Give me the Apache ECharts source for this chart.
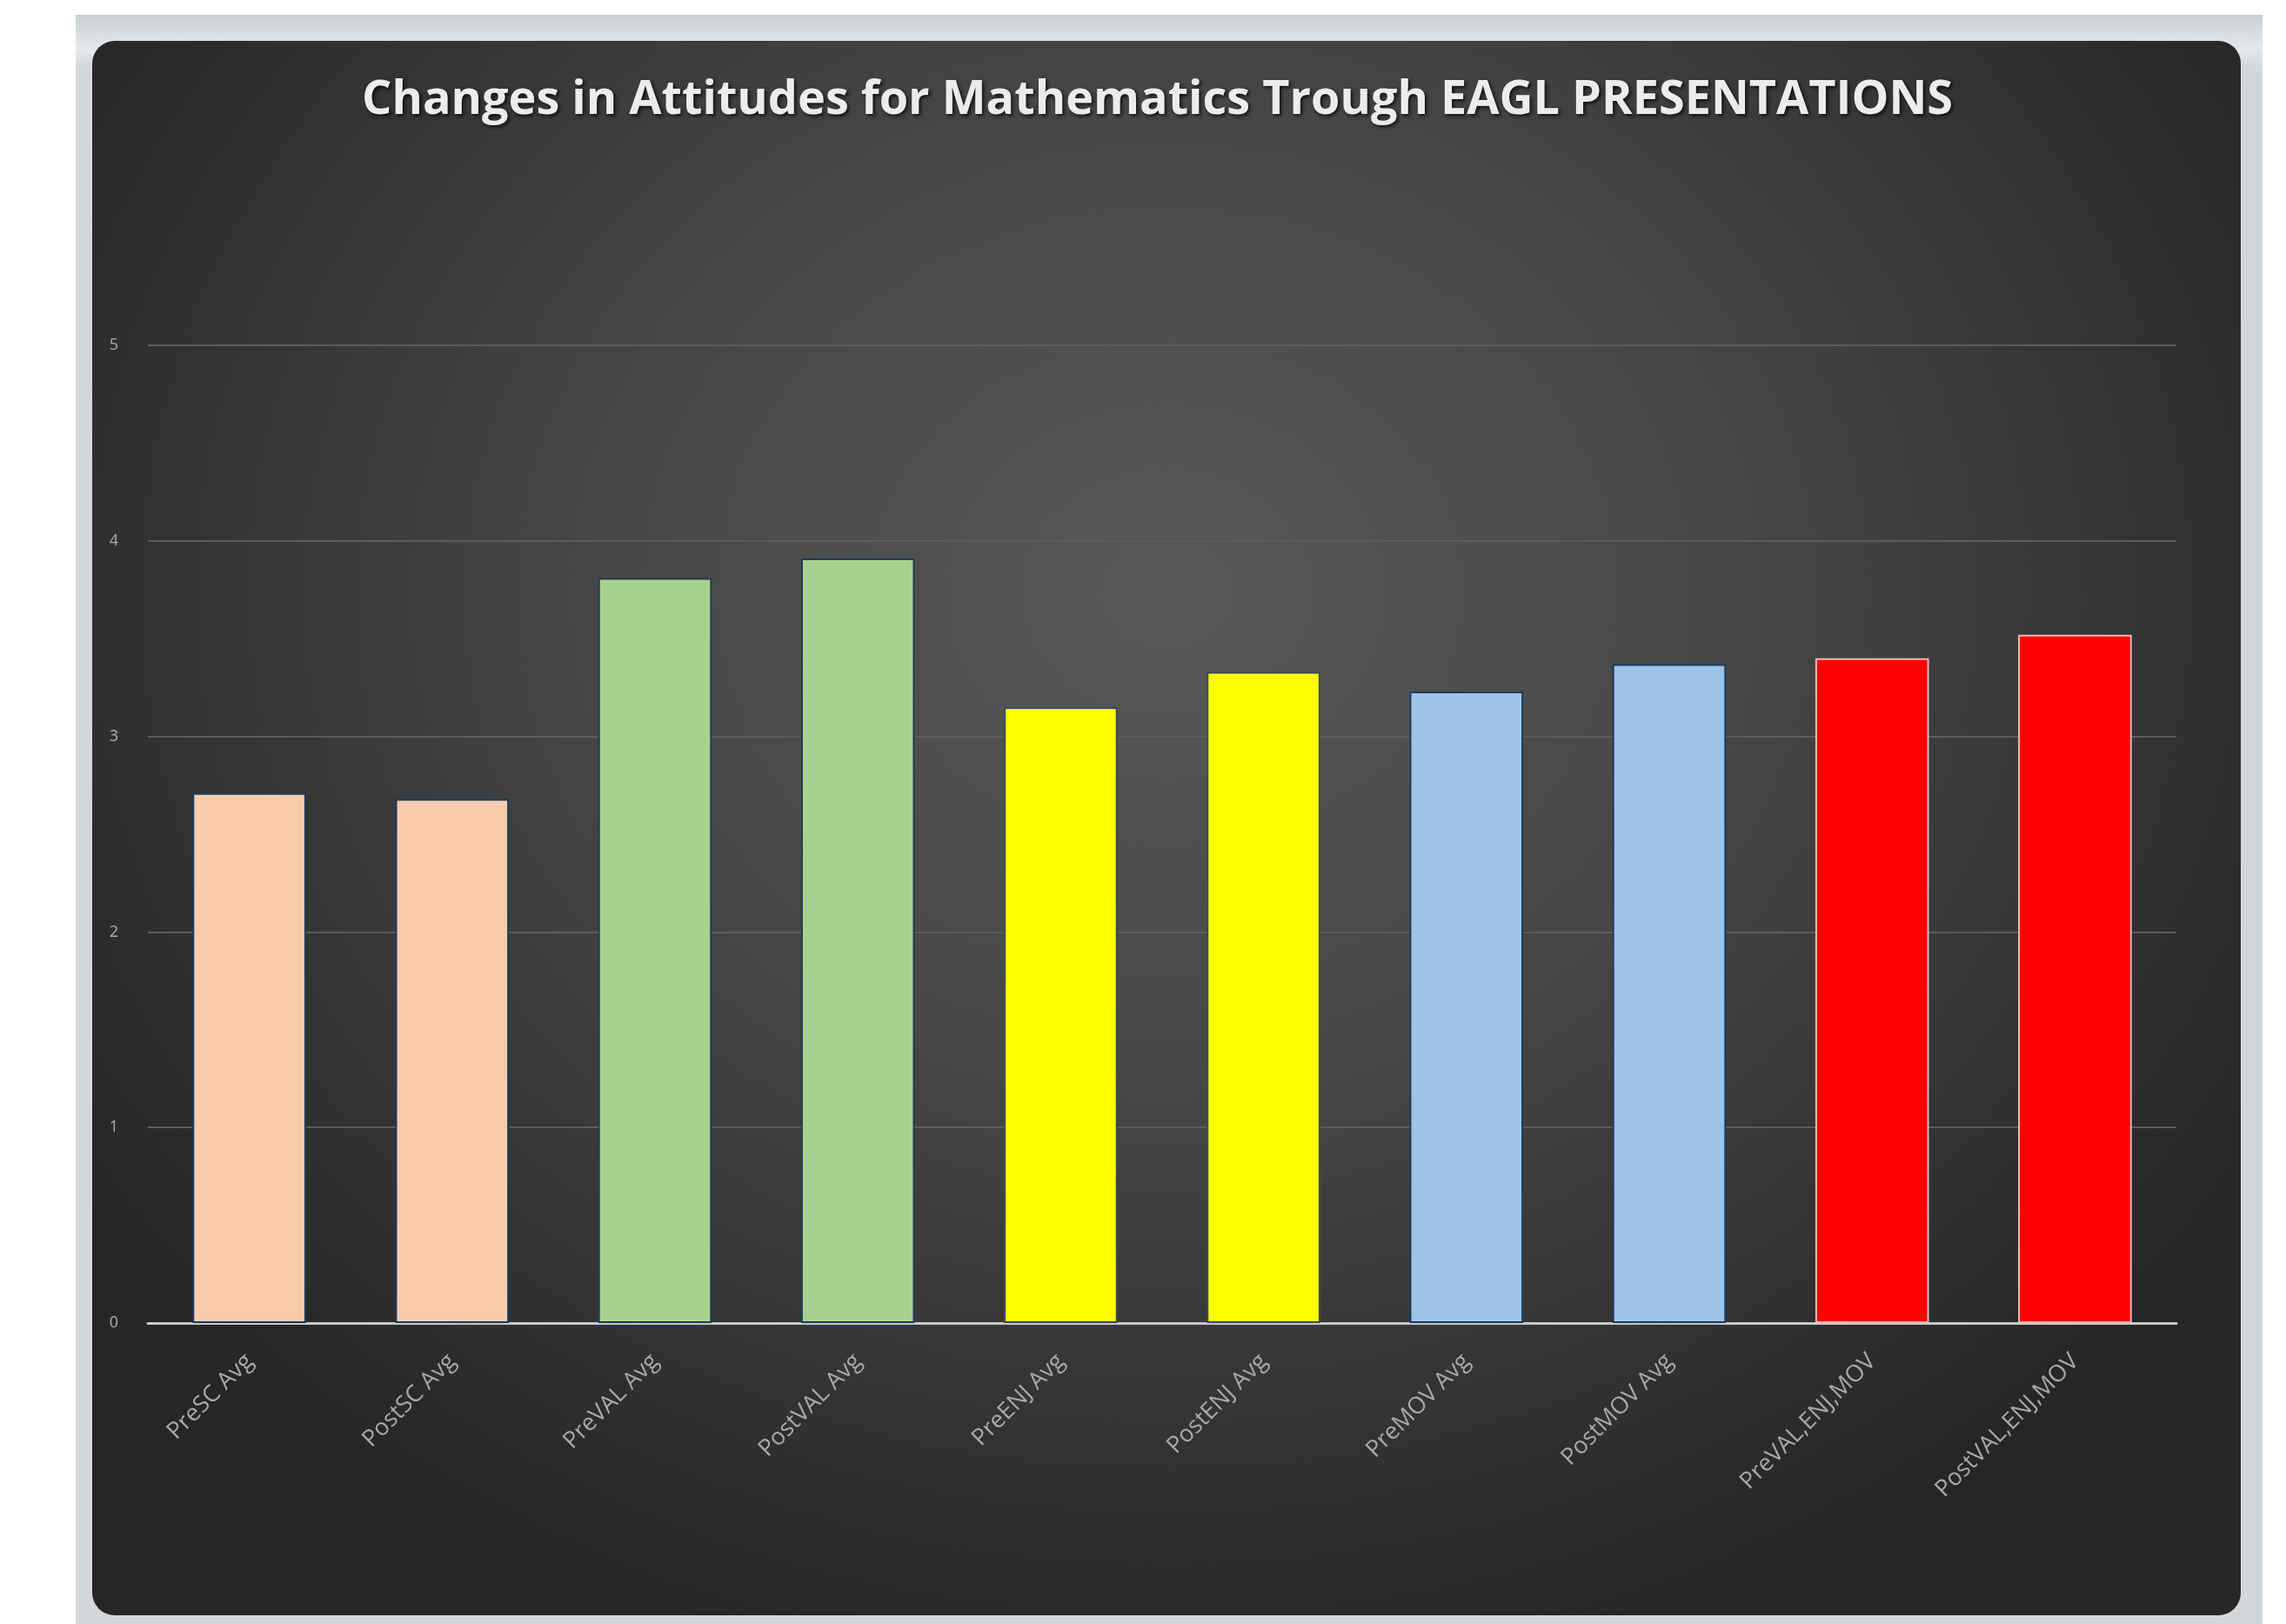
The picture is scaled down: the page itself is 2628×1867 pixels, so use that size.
<!DOCTYPE html>
<html>
<head>
<meta charset="utf-8">
<script src="https://cdn.jsdelivr.net/npm/echarts@6/dist/echarts.min.js"></script>
<style>
  html, body { margin: 0; padding: 0; background: #ffffff; width: 2628px; height: 1867px; overflow: hidden; }
  #frame { position: absolute; left: 87px; top: 17px; width: 2514px; height: 1870px;
           background: linear-gradient(#c9ced3, #e6e9ec 40px, #d3d7db 60px); }
  #panel { position: absolute; left: 106px; top: 47px; width: 2470px; height: 1810px; border-radius: 26px;
           background: radial-gradient(ellipse 60% 70% at 50% 35%, #595959 0%, #464646 45%, #2e2e2e 85%, #262626 100%); }
  #chart { position: absolute; left: 0; top: 0; width: 2628px; height: 1867px; }
</style>
</head>
<body>
<div id="frame"></div>
<div id="panel"></div>
<div id="chart"></div>
<script>
const categories = ["PreSC Avg", "PostSC Avg", "PreVAL Avg", "PostVAL Avg", "PreENJ Avg", "PostENJ Avg", "PreMOV Avg", "PostMOV Avg", "PreVAL,ENJ,MOV", "PostVAL,ENJ,MOV"];
const values = [2.71, 2.68, 3.81, 3.91, 3.15, 3.33, 3.23, 3.37, 3.40, 3.52];
const yTicks = [0, 1, 2, 3, 4, 5];

const barColors = ["#F8CBAD", "#F8CBAD", "#A9D18E", "#A9D18E", "#FFFF00", "#FFFF00", "#9DC3E6", "#9DC3E6", "#FF0000", "#FF0000"];
const barBorders = ["#1F3A5C", "#1F3A5C", "#1F3A5C", "#1F3A5C", "#3a4a5c", "#3a4a5c", "#1F3A5C", "#1F3A5C", "#F2B8B8", "#F2B8B8"];

const chart = echarts.init(document.getElementById('chart'), null, { renderer: 'canvas' });
chart.setOption({
  backgroundColor: 'transparent',
  animation: false,
  title: {
    text: 'Changes in Attitudes for Mathematics Trough EAGL PRESENTATIONS',
    left: 411,
    top: 84,
    textStyle: {
      color: '#ececec', fontFamily: 'Open Sans', fontWeight: 700, fontSize: 54,
      textShadowColor: 'rgba(0,0,0,0.8)', textShadowBlur: 4, textShadowOffsetX: 2, textShadowOffsetY: 2
    }
  },
  grid: { left: 170, right: 126, top: 397, bottom: 346, containLabel: false },
  xAxis: {
    type: 'category',
    data: categories,
    axisLine: { show: true, lineStyle: { color: '#c8c8c8', width: 3 } },
    axisTick: { show: false },
    axisLabel: { rotate: 45, color: '#a8a8a8', fontFamily: 'Open Sans', fontSize: 27, margin: 40 },
    splitLine: { show: false }
  },
  yAxis: {
    type: 'value',
    min: yTicks[0], max: yTicks[yTicks.length - 1], interval: 1,
    axisLine: { show: false },
    axisTick: { show: false },
    axisLabel: { color: '#b0b0b0', fontFamily: 'Open Sans', fontSize: 18, margin: 34 },
    splitLine: { show: true, lineStyle: { color: '#5c5c5c', width: 2 } }
  },
  series: [{
    type: 'bar',
    data: values.map((v, i) => ({ value: v, itemStyle: { color: barColors[i], borderColor: barBorders[i], borderWidth: 2 } })),
    barCategoryGap: '44%'
  }]
});
</script>
</body>
</html>
